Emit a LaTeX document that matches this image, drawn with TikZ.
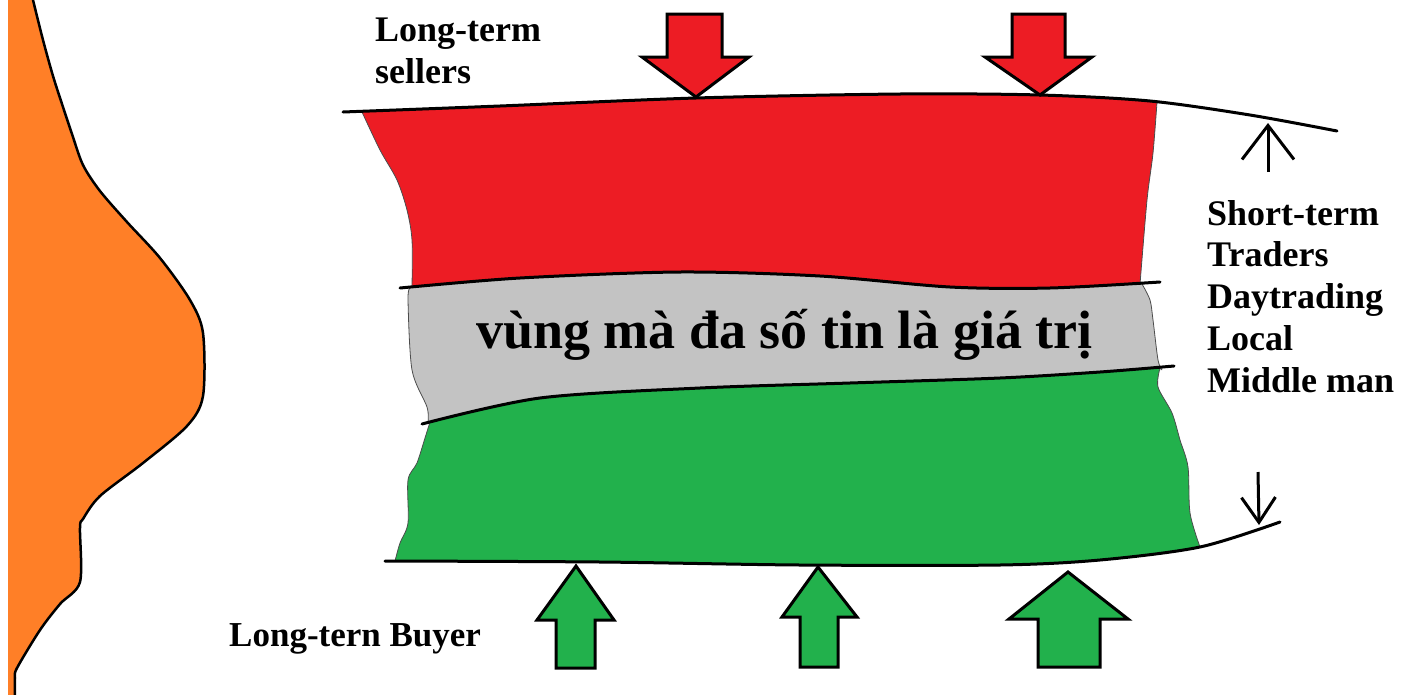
\documentclass[tikz,border=0pt]{standalone}
\usepackage{fontspec}
\setmainfont{Liberation Serif}
\usetikzlibrary{arrows.meta}

\definecolor{sellred}{HTML}{ED1C24}
\definecolor{buygreen}{HTML}{22B14C}
\definecolor{valuegray}{HTML}{C3C3C3}
\definecolor{volorange}{HTML}{FF7F27}

\tikzstyle{tradertext} = [
    font=\fontsize{36}{41.8}\selectfont\bfseries,
    inner sep=0pt,
    align=left
]
\tikzstyle{bigtext} = [
    font=\fontsize{54}{60}\selectfont\bfseries,
    inner sep=0pt,
    anchor=base west
]
\tikzstyle{blockarrow} = [draw=black, line width=3pt, line join=miter]
\tikzstyle{edgeline} = [draw=black, line width=3pt, line cap=round]
\tikzstyle{sideedge} = [draw=black!70, line width=0.8pt]
\tikzstyle{thinarrow} = [line width=3pt]

\begin{document}
\begin{tikzpicture}[x=1pt, y=-1pt]

\useasboundingbox (0,0) rectangle (1409,694);

% volume profile on the left
\fill[volorange] (8,-2) -- (33,-2) -- plot[smooth, tension=0.5] coordinates {
    (33,0) (43,40) (53,76) (63,107) (72,134) (83,165) (100,191)
    (127,222) (160,258) (190,300) (203,333) (203,396) (187,426)
    (143,463) (100,496) (83,519) (80,528) (80,582) (60,604)
    (40,630) (17,668) (15,678) (15,696)} -- (8,696) -- cycle;
\draw[line width=2.5pt] plot[smooth, tension=0.5] coordinates {
    (33,0) (43,40) (53,76) (63,107) (72,134) (83,165) (100,191)
    (127,222) (160,258) (190,300) (203,333) (203,396) (187,426)
    (143,463) (100,496) (83,519) (80,528) (80,582) (60,604)
    (40,630) (17,668) (15,678) (15,696)};

% red band (sellers)
\fill[sellred] plot[smooth] coordinates {(362,112) (500,106) (696,98) (900,94) (1040,95) (1157,102)}
    -- plot[smooth] coordinates {(1157,102) (1153,153) (1147,200) (1140,284)}
    -- plot[smooth] coordinates {(1140,284) (1050,288) (950,287) (820,276) (680,272) (520,278) (412,287)}
    -- plot[smooth] coordinates {(412,287) (412,240) (407,210) (397,180) (380,150) (362,112)}
    -- cycle;
\draw[sideedge] plot[smooth] coordinates {(412,287) (412,240) (407,210) (397,180) (380,150) (362,112)};
\draw[sideedge] plot[smooth] coordinates {(1157,102) (1153,153) (1147,200) (1140,284)};

% gray band (value)
\fill[valuegray] plot[smooth] coordinates {(410,288) (520,278) (680,272) (820,276) (950,287) (1050,288) (1142,284)}
    -- plot[smooth] coordinates {(1142,284) (1150,300) (1153,320) (1158,360) (1162,370)}
    -- plot[smooth] coordinates {(1162,370) (1100,372) (1000,378) (850,383) (700,388) (540,398) (428,422)}
    -- plot[smooth] coordinates {(428,422) (427,407) (412,370) (408,300) (410,288)}
    -- cycle;
\draw[sideedge] plot[smooth] coordinates {(428,422) (427,407) (412,370) (408,300) (410,288)};
\draw[sideedge] plot[smooth] coordinates {(1142,284) (1150,300) (1153,320) (1158,360) (1162,370)};

% green band (buyers)
\fill[buygreen] plot[smooth] coordinates {(430,422) (540,398) (700,388) (850,383) (1000,378) (1100,372) (1160,368)}
    -- plot[smooth] coordinates {(1160,368) (1158,387) (1172,413) (1180,440) (1188,467) (1190,513) (1200,547)}
    -- plot[smooth] coordinates {(1200,547) (1100,560) (1000,565) (800,565) (600,562) (395,561)}
    -- plot[smooth] coordinates {(395,561) (400,543) (408,523) (408,480) (417,463) (425,438) (430,422)}
    -- cycle;
\draw[sideedge] plot[smooth] coordinates {(395,561) (400,543) (408,523) (408,480) (417,463) (425,438) (430,422)};
\draw[sideedge] plot[smooth] coordinates {(1160,368) (1158,387) (1172,413) (1180,440) (1188,467) (1190,513) (1200,547)};

% boundary lines
\draw[edgeline] plot[smooth] coordinates {(343,112) (500,106) (696,98) (900,94) (1040,95) (1150,101) (1250,115) (1337,131)};
\draw[edgeline] plot[smooth] coordinates {(400,288) (520,278) (680,272) (820,276) (950,287) (1050,288) (1160,282)};
\draw[edgeline] plot[smooth] coordinates {(422,424) (540,398) (700,388) (850,383) (1000,378) (1100,372) (1174,366)};
\draw[edgeline] plot[smooth] coordinates {(385,561) (600,562) (800,565) (1000,565) (1100,560) (1200,547) (1280,522)};

% selling pressure
\filldraw[blockarrow, fill=sellred] (667,14) -- (722,14) -- (722,57) -- (749,57) -- (696,97) -- (642,57) -- (667,57) -- cycle;
\filldraw[blockarrow, fill=sellred] (1012,14) -- (1065,14) -- (1065,57) -- (1092,57) -- (1040,95) -- (985,57) -- (1012,57) -- cycle;

% buying pressure
\filldraw[blockarrow, fill=buygreen] (556,668) -- (595,668) -- (595,620) -- (614,620) -- (576,566) -- (537,620) -- (556,620) -- cycle;
\filldraw[blockarrow, fill=buygreen] (800,667) -- (838,667) -- (838,617) -- (857,617) -- (818,567) -- (782,617) -- (800,617) -- cycle;
\filldraw[blockarrow, fill=buygreen] (1038,667) -- (1100,667) -- (1100,619) -- (1128,619) -- (1068,572) -- (1009,619) -- (1038,619) -- cycle;

% range of the short-term traders
\coordinate (upfoot) at (1268,172);
\coordinate (uptip) at (1268,123);
\coordinate (downfoot) at (1258,472);
\coordinate (downtip) at (1259,525);
\draw[thinarrow, -{Straight Barb[length=34pt, width=52pt]}] (upfoot) -- (uptip);
\draw[thinarrow, -{Straight Barb[length=25pt, width=34pt]}] (downfoot) -- (downtip);

% labels
\node (sellers) [tradertext, anchor=north west] at (375,18) {Long-term\\sellers};
\node (traders) [tradertext, anchor=north west] at (1207,200)
{Short-term\\Traders\\Daytrading\\Local\\Middle man};
\node (buyer) [tradertext, anchor=base west, font=\fontsize{35}{40}\selectfont\bfseries] at (229,646) {Long-tern Buyer};
\node (value) [bigtext] at (476,348) {vùng mà đa số tin là giá trị};

\end{tikzpicture}
\end{document}
